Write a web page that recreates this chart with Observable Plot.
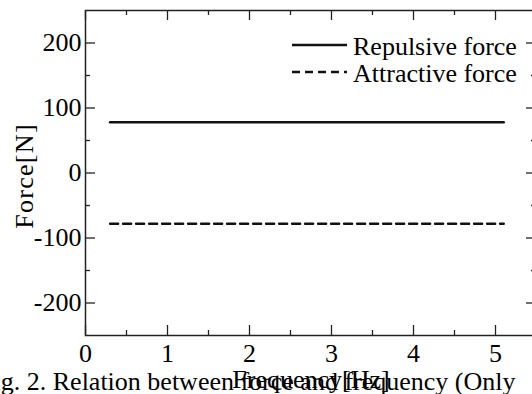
<!DOCTYPE html>
<html><head><meta charset="utf-8">
<script src="https://cdn.jsdelivr.net/npm/d3@7"></script>
<script src="https://cdn.jsdelivr.net/npm/@observablehq/plot@0.6"></script>
<style>
html,body{margin:0;padding:0;background:#fff;overflow:hidden;width:532px;height:394px;}
#chart{width:540px;height:394px;overflow:hidden;position:relative;}
#chart svg{max-width:none !important;}
</style></head><body><div id="chart"></div>
<script>
const frequency = [0.3, 1, 2, 3, 4, 5, 5.1];
const repulsive = [78, 78, 78, 78, 78, 78, 78];
const attractive = [-78, -78, -78, -78, -78, -78, -78];
const seriesNames = ["Repulsive force", "Attractive force"];
const xTicks = [0, 1, 2, 3, 4, 5];
const xMinorTicks = [0.5, 1.5, 2.5, 3.5, 4.5, 5.5];
const yTicks = [-200, -100, 0, 100, 200];
const yMinorTicks = [-150, -50, 50, 150];
const xLabel = "Frequency[Hz]";
const yLabel = "Force[N]";
const caption = "Fig. 2. Relation between force and frequency (Only";

const W = 540, H = 394, ML = 85, MR = 4, MT = 10, MB = 59;
const PW = W - ML - MR, PH = H - MT - MB;
const FONT = "'Liberation Serif', 'Times New Roman', serif";
const FS = 26;
const ink = "#222";

const repRows = frequency.map((f, i) => ({f, v: repulsive[i]}));
const attRows = frequency.map((f, i) => ({f, v: attractive[i]}));

const svg = Plot.plot({
  width: W, height: H,
  marginLeft: ML, marginRight: MR, marginTop: MT, marginBottom: MB,
  style: {fontFamily: FONT, fontSize: FS + "px", color: "black", background: "white", overflow: "hidden", maxWidth: "none"},
  x: {domain: [0, 5.5], label: null},
  y: {domain: [-250, 250], label: null},
  marks: [
    // inward ticks
    Plot.tickY(yTicks, {y: d => d, insetRight: PW - 10, stroke: ink, strokeWidth: 1.3}),
    Plot.tickY(yTicks, {y: d => d, insetLeft: PW - 10, stroke: ink, strokeWidth: 1.3}),
    Plot.tickY(yMinorTicks, {y: d => d, insetRight: PW - 5, stroke: ink, strokeWidth: 1.3}),
    Plot.tickY(yMinorTicks, {y: d => d, insetLeft: PW - 5, stroke: ink, strokeWidth: 1.3}),
    Plot.tickX(xTicks, {x: d => d, insetTop: PH - 10, stroke: ink, strokeWidth: 1.3}),
    Plot.tickX(xTicks, {x: d => d, insetBottom: PH - 10, stroke: ink, strokeWidth: 1.3}),
    Plot.tickX(xMinorTicks, {x: d => d, insetTop: PH - 5, stroke: ink, strokeWidth: 1.3}),
    Plot.tickX(xMinorTicks, {x: d => d, insetBottom: PH - 5, stroke: ink, strokeWidth: 1.3}),
    Plot.frame({stroke: ink, strokeWidth: 1.5}),
    Plot.axisX(xTicks, {anchor: "bottom", tickSize: 0, tickPadding: 8, tickFormat: d => String(d), fontSize: FS, fill: "black", label: null}),
    Plot.axisY(yTicks, {anchor: "left", tickSize: 0, tickPadding: 4, tickFormat: d => String(d), fontSize: FS, fill: "black", label: null}),
    Plot.line(repRows, {x: "f", y: "v", stroke: "#111", strokeWidth: 2.5}),
    Plot.line(attRows, {x: "f", y: "v", stroke: "#111", strokeWidth: 2.5, strokeDasharray: "8,5"}),
    Plot.text([xLabel], {text: d => d, frameAnchor: "bottom", textAnchor: "middle", lineAnchor: "bottom", dy: 52, fontSize: FS, fill: "black"}),
    Plot.text([yLabel], {text: d => d, frameAnchor: "left", textAnchor: "middle", rotate: -90, lineAnchor: "bottom", dx: -53, dy: 3, fontSize: FS, fill: "black", className: "ylab"}),
    Plot.text([caption], {text: d => d, frameAnchor: "bottom-right", textAnchor: "end", lineAnchor: "bottom", dx: -21, dy: 54, fontSize: FS, fill: "black"})
  ]
});
svg.style.maxWidth = "none";
d3.select(svg).selectAll(".ylab text").attr("letter-spacing", "1.3px");

// in-plot legend
const g = d3.select(svg).append("g").attr("font-family", FONT).attr("font-size", FS).attr("text-anchor", "start");
const legendRows = [
  {name: seriesNames[0], y: 45, dash: null},
  {name: seriesNames[1], y: 72, dash: "8,5"}
];
legendRows.forEach(r => {
  g.append("line").attr("x1", 292).attr("x2", 347).attr("y1", r.y).attr("y2", r.y)
    .attr("stroke", "#111").attr("stroke-width", 2.5).attr("stroke-dasharray", r.dash);
  g.append("text").attr("x", 353).attr("y", r.y + 10).attr("fill", "black").attr("text-anchor", "start").text(r.name);
});

document.getElementById("chart").appendChild(svg);
</script></body></html>
